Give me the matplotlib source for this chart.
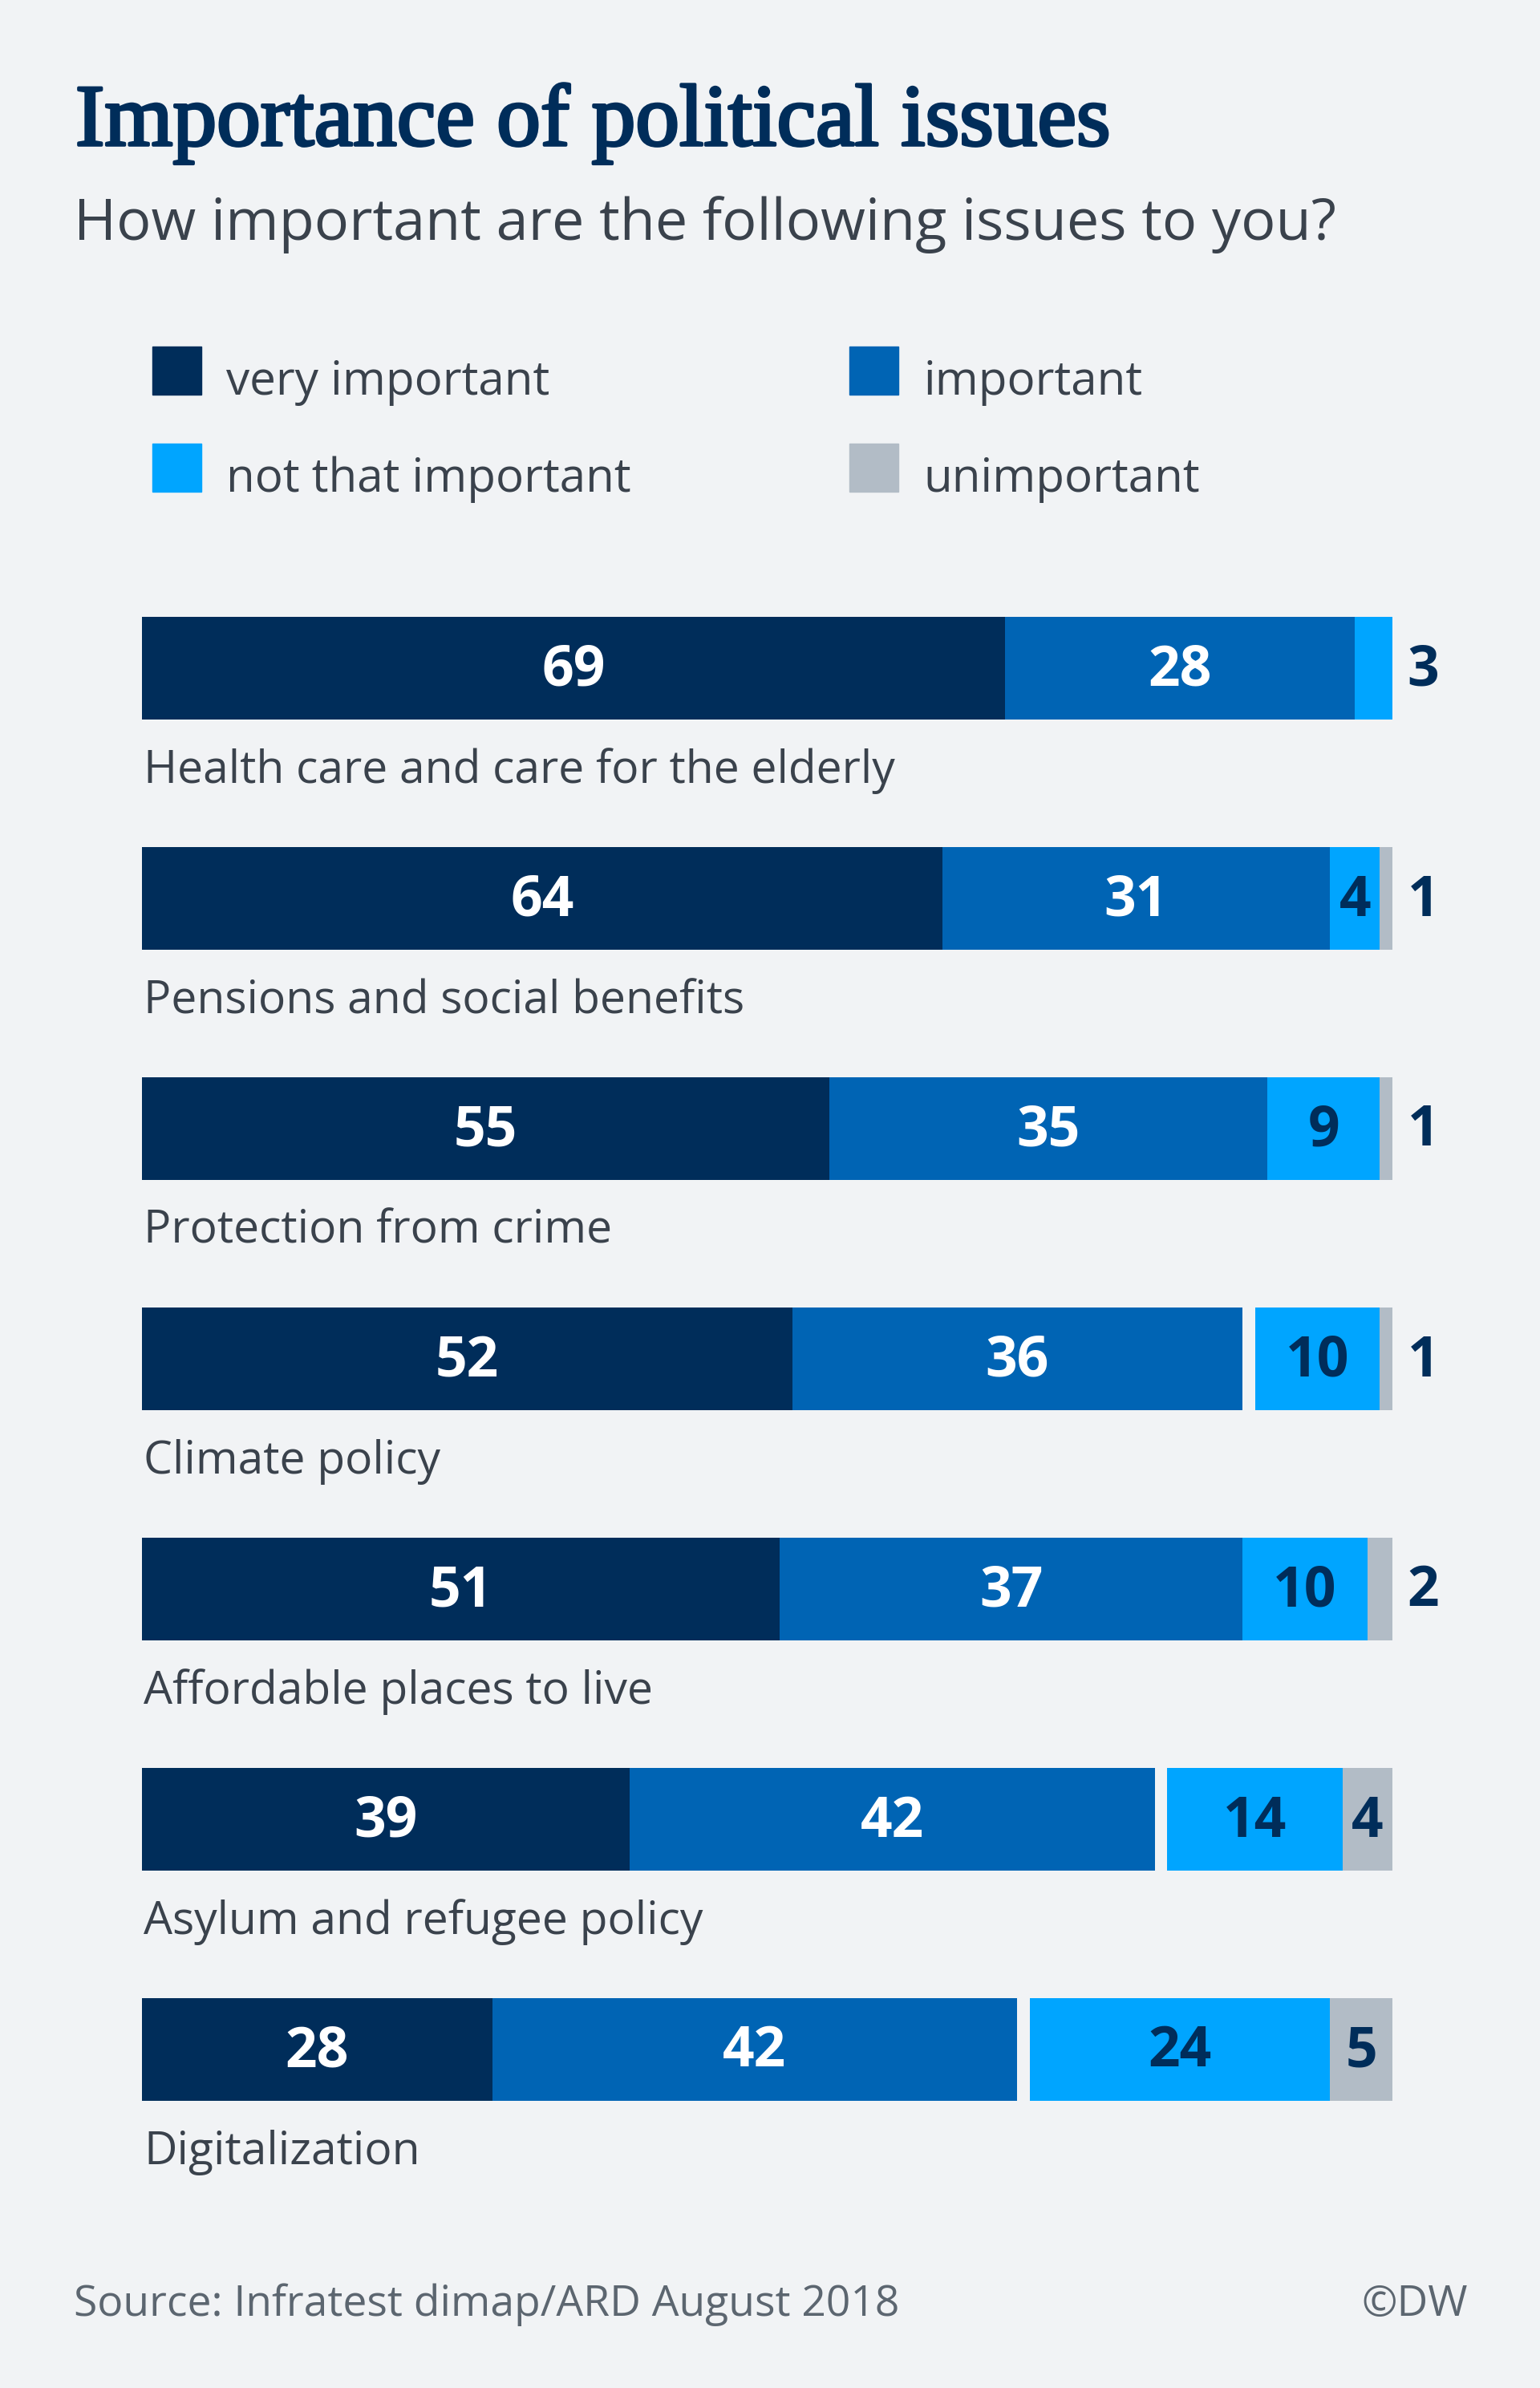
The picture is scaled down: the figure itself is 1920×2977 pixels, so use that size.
import matplotlib
matplotlib.use("Agg")
import matplotlib.pyplot as plt
import matplotlib.patheffects as pe

# ---- data ----
categories = ["Health care and care for the elderly", "Pensions and social benefits",
              "Protection from crime", "Climate policy", "Affordable places to live",
              "Asylum and refugee policy", "Digitalization"]
very_important = [69, 64, 55, 52, 51, 39, 28]
important = [28, 31, 35, 36, 37, 42, 42]
not_that_important = [3, 4, 9, 10, 10, 14, 24]
unimportant = [0, 1, 1, 1, 2, 4, 5]
legend_labels = ["very important", "important", "not that important", "unimportant"]

title = "Importance of political issues"
subtitle = "How important are the following issues to you?"
source = "Source: Infratest dimap/ARD August 2018"

# ---- style ----
BG = "#f1f3f5"
NAVY = "#002d5a"
BLUE = "#0064b4"
LIGHT = "#00a5ff"
GRAY = "#b2bcc6"
TEXT = "#3a424c"
SRC = "#5c6670"
colors = [NAVY, BLUE, LIGHT, GRAY]

W, H = 1920, 2977
fig = plt.figure(figsize=(W / 100, H / 100), dpi=100, facecolor=BG)
renderer = fig.canvas.get_renderer()


def fx(px):
    return px / W


def fy(py):
    return 1 - py / H


def fit(t, target_w):
    w = t.get_window_extent(renderer).width
    t.set_fontsize(t.get_fontsize() * target_w / w)


# title / subtitle
t = fig.text(fx(94), fy(181), title, fontsize=70, color=NAVY, va="baseline", ha="left",
             family="Liberation Serif", fontweight="normal")
fit(t, 1292)
t.set_path_effects([pe.withStroke(linewidth=2.6, foreground=NAVY)])
t = fig.text(fx(92), fy(299), subtitle, fontsize=45, color=TEXT, va="baseline", ha="left",
             family="Open Sans")
fit(t, 1574)

# legend
leg_pos = [(190, 432), (1059, 432), (190, 553), (1059, 553)]
leg_texts = []
for (lx, ly), lab, c in zip(leg_pos, legend_labels, colors):
    fig.patches.append(plt.Rectangle((fx(lx), fy(ly + 60)), 61 / W, 60 / H,
                                     transform=fig.transFigure, color=c))
    lt = fig.text(fx(lx + 92), fy(ly + 60), lab, fontsize=42, color=TEXT,
                  va="baseline", ha="left", family="Open Sans")
    leg_texts.append(lt)
fit(leg_texts[0], 404)
for lt in leg_texts[1:]:
    lt.set_fontsize(leg_texts[0].get_fontsize())

# bars
pitch = 287
bar_h_px = 128
h = bar_h_px / pitch
n = len(categories)
top_px = 769
ax_h_px = (n - 1) * pitch + bar_h_px
ax = fig.add_axes([fx(177), fy(top_px + ax_h_px), 1559 / W, ax_h_px / H])
ax.set_facecolor("none")
ax.set_xlim(0, 100)
ax.set_ylim(n - 1 + h / 2, -h / 2)
ax.axis("off")

ys = list(range(n))
left_imp = very_important
left_unimp = [100 - u for u in unimportant]
left_not = [100 - u - v for u, v in zip(unimportant, not_that_important)]

ax.barh(ys, very_important, left=0, height=h, color=NAVY, linewidth=0)
ax.barh(ys, important, left=left_imp, height=h, color=BLUE, linewidth=0)
ax.barh(ys, not_that_important, left=left_not, height=h, color=LIGHT, linewidth=0)
ax.barh(ys, unimportant, left=left_unimp, height=h, color=GRAY, linewidth=0)

VAL_FS = 50
dy = -5 / pitch
for i in range(n):
    segs = [(0, very_important[i], "white"),
            (left_imp[i], important[i], "white"),
            (left_not[i], not_that_important[i], NAVY),
            (left_unimp[i], unimportant[i], NAVY)]
    for left, val, tc in segs:
        if val == 0:
            continue
        if val >= 4:
            ax.text(left + val / 2, i + dy, str(val), ha="center", va="center_baseline",
                    fontsize=VAL_FS, color=tc, fontweight="bold", family="Open Sans")
        else:
            ax.text(101.2, i + dy, str(val), ha="left", va="center_baseline",
                    fontsize=VAL_FS, color=NAVY, fontweight="bold", family="Open Sans",
                    clip_on=False)

cat_texts = []
for i, cat in enumerate(categories):
    ct = ax.text(0.15, i + h / 2 + 79 / pitch, cat, ha="left", va="baseline",
                 fontsize=43, color=TEXT, family="Open Sans", clip_on=False)
    cat_texts.append(ct)
fit(cat_texts[0], 939)
for ct in cat_texts[1:]:
    ct.set_fontsize(cat_texts[0].get_fontsize())

# footer
st = fig.text(fx(92), fy(2887), source, fontsize=40, color=SRC, va="baseline", ha="left",
              family="Open Sans")
fit(st, 1028)
fig.text(fx(1830), fy(2887), "©DW", fontsize=st.get_fontsize(), color=SRC, va="baseline",
         ha="right", family="Open Sans")

fig.savefig("out.png", dpi=100, facecolor=BG)
